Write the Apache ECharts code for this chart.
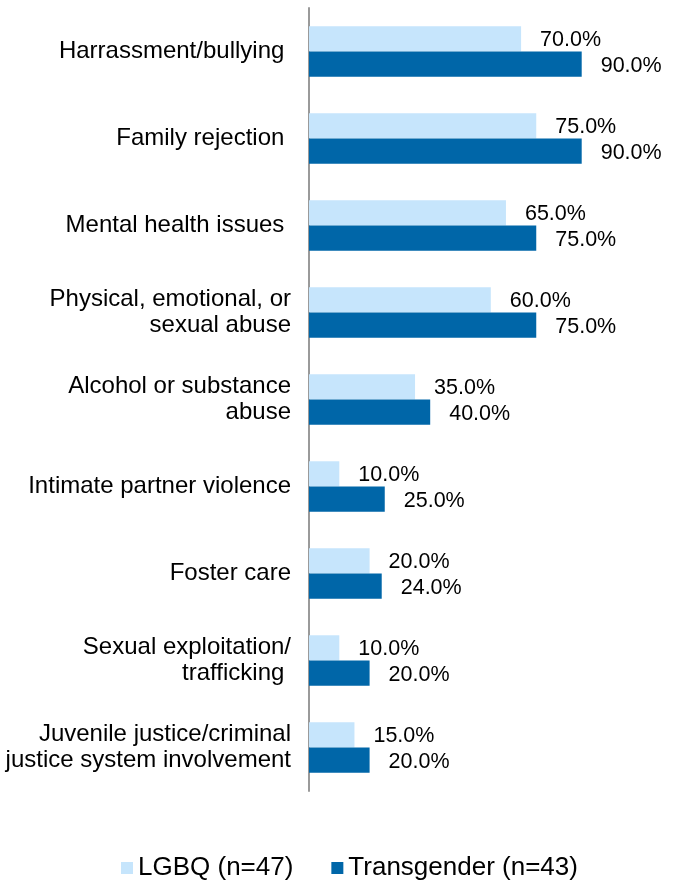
<!DOCTYPE html>
<html>
<head>
<meta charset="utf-8">
<script src="https://cdn.jsdelivr.net/npm/echarts@6/dist/echarts.min.js"></script>
<style>html,body{margin:0;padding:0;background:#fff}#c{width:678px;height:884px}</style>
</head>
<body>
<div id="c"></div>
<script>
const categories = [
  "Harrassment/bullying ",
  "Family rejection ",
  "Mental health issues ",
  "Physical, emotional, or\nsexual abuse",
  "Alcohol or substance\nabuse",
  "Intimate partner violence",
  "Foster care",
  "Sexual exploitation/\ntrafficking ",
  "Juvenile justice/criminal\njustice system involvement"
];
const lgbq = [70, 75, 65, 60, 35, 10, 20, 10, 15];
const transgender = [90, 90, 75, 75, 40, 25, 24, 20, 20];
const seriesNames = ["LGBQ (n=47)", "Transgender (n=43)"];

const font = "Liberation Sans, Arial, Helvetica, sans-serif";
const chart = echarts.init(document.getElementById('c'), null, {renderer: 'canvas'});
const lbl = {
  show: true, position: 'right', distance: 19, offset: [0, 1.5],
  color: '#000', fontSize: 21.5, fontFamily: font,
  formatter: p => p.value.toFixed(1) + '%'
};
chart.setOption({
  animation: false,
  backgroundColor: '#fff',
  grid: {left: 309, right: 66, top: 8, bottom: 93, containLabel: false},
  xAxis: {type: 'value', min: 0, max: 100, show: false},
  yAxis: {
    type: 'category', data: categories, inverse: true,
    axisLine: {show: true, lineStyle: {color: '#9a9a9a', width: 2}},
    axisTick: {show: false},
    axisLabel: {color: '#000', fontSize: 24, fontFamily: font, margin: 18, lineHeight: 26, align: 'right', padding: [4, 0, 0, 0]}
  },
  legend: {
    bottom: -2, left: 116,
    icon: 'rect', itemWidth: 12, itemHeight: 12, itemGap: 38, itemTextGap: 4,
    textStyle: {color: '#000', fontSize: 26, fontFamily: font},
    data: seriesNames
  },
  series: [
    {name: seriesNames[0], type: 'bar', data: lgbq, barGap: '0%', barCategoryGap: '42%',
     itemStyle: {color: '#c6e5fc'}, label: lbl},
    {name: seriesNames[1], type: 'bar', data: transgender, barGap: '0%', barCategoryGap: '42%',
     itemStyle: {color: '#0066a8'}, label: lbl}
  ]
});
</script>
</body>
</html>
